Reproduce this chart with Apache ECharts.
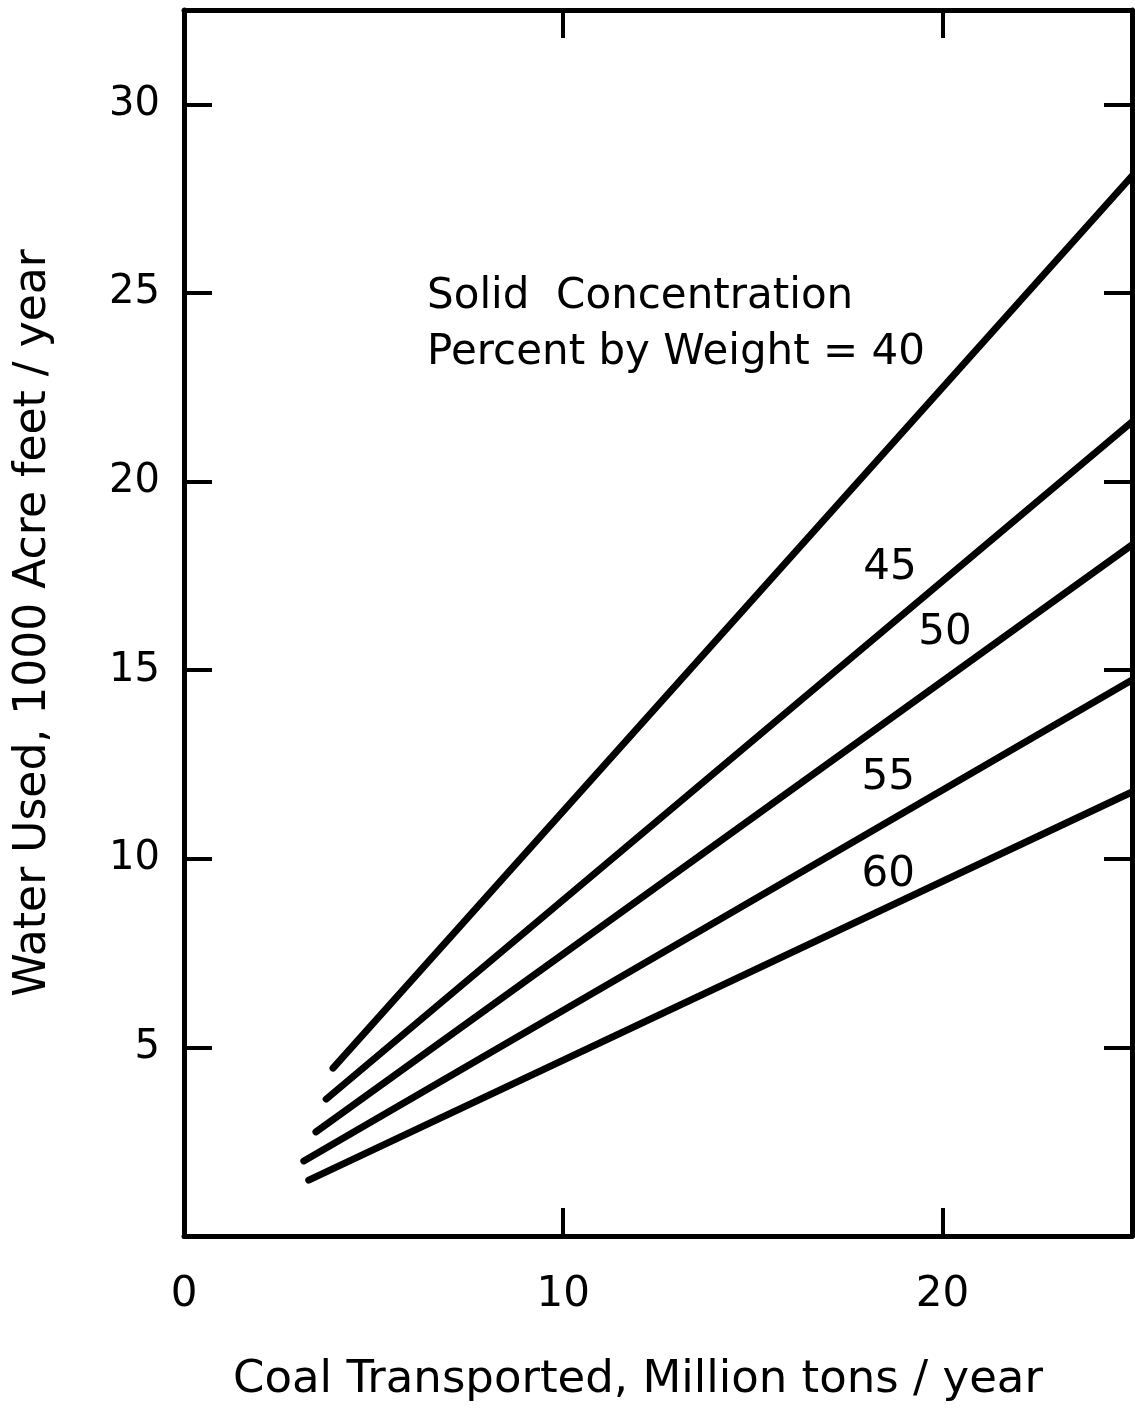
<!DOCTYPE html>
<html><head><meta charset="utf-8">
<script src="https://cdn.jsdelivr.net/npm/echarts@6.0.0/dist/echarts.min.js"></script>
<style>html,body{margin:0;padding:0;background:#fff}#c{width:1135px;height:1410px}</style>
</head><body><div id="c"></div>
<script>
// Solid concentration (percent by weight) of each curve
const concentrations = ['40', '45', '50', '55', '60'];
// Start and end points of each straight curve (coal in Mt/yr, water in 1000 acre-ft/yr)
const coalStart  = [3.93, 3.75, 3.48, 3.16, 3.29];
const waterStart = [4.45, 3.63, 2.76, 1.99, 1.48];
const coalEnd    = [25, 25, 25, 25, 25];
const waterEnd   = [28.1, 21.58, 18.32, 14.74, 11.77];
// Curve labels placed in data coordinates
const curveLabelText  = ['45', '50', '55', '60'];
const curveLabelCoal  = [18.62, 20.07, 18.57, 18.57];
const curveLabelWater = [17.71, 15.99, 12.14, 9.57];
// Legend-style annotation lines
const noteText  = ['Solid  Concentration', 'Percent by Weight = 40'];
const noteCoal  = [6.41, 6.41];
const noteWater = [24.9, 23.4];
// Axis ticks
const xTicks = [0, 10, 20];
const yTicks = [5, 10, 15, 20, 25, 30];

const FONT = 'DejaVu Sans';
const chart = echarts.init(document.getElementById('c'), null, {renderer: 'canvas'});

const lineSeries = concentrations.map((c, i) => ({
  type: 'line', name: c, silent: true, symbol: 'none',
  data: [[coalStart[i], waterStart[i]], [coalEnd[i], waterEnd[i]]],
  lineStyle: {color: '#000', width: 7, cap: 'round'},
  z: 3
}));

const txt = {color: '#000', opacity: 1, textBorderWidth: 0, fontWeight: 'normal', fontFamily: FONT};

const labelSeries = {
  type: 'scatter', silent: true, symbolSize: 0, itemStyle: {opacity: 1},
  data: curveLabelText.map((t, i) => ({value: [curveLabelCoal[i], curveLabelWater[i]], name: t})),
  label: Object.assign({show: true, position: 'inside', formatter: p => p.name, fontSize: 42}, txt),
  z: 4
};
const noteSeries = {
  type: 'scatter', silent: true, symbolSize: 0, itemStyle: {opacity: 1},
  data: noteText.map((t, i) => ({value: [noteCoal[i], noteWater[i]], name: t})),
  label: Object.assign({show: true, position: 'right', distance: 0, formatter: p => p.name,
          fontSize: 42, align: 'left', verticalAlign: 'middle'}, txt),
  z: 4
};

const axisLine = {show: true, onZero: false, lineStyle: {color: '#000', width: 5}};
const tick = {show: true, inside: true, length: 28, lineStyle: {color: '#000', width: 4}};

chart.setOption({
  animation: false,
  backgroundColor: '#fff',
  grid: {left: 184, right: 3, top: 10, bottom: 174, containLabel: false, outerBoundsMode: 'none'},
  xAxis: [{
    type: 'value', min: 0, max: 25, interval: 10, position: 'bottom',
    axisLine, axisTick: tick, splitLine: {show: false},
    axisLabel: Object.assign({show: true, margin: 38, fontSize: 42,
                showMinLabel: true, showMaxLabel: false,
                formatter: v => xTicks.includes(v) ? String(v) : ''}, txt),
    name: 'Coal Transported, Million tons / year', nameLocation: 'middle', nameGap: 122,
    nameMoveOverlap: false,
    nameTextStyle: Object.assign({fontSize: 45, padding: [0, 40, 0, 0]}, txt)
  }, {
    type: 'value', min: 0, max: 25, interval: 10, position: 'top',
    axisLine, axisTick: tick, splitLine: {show: false}, axisLabel: {show: false}
  }],
  yAxis: [{
    type: 'value', min: 0, max: 32.5, interval: 5, position: 'left',
    axisLine, axisTick: tick, splitLine: {show: false},
    axisLabel: Object.assign({show: true, margin: 24, fontSize: 40,
                formatter: v => yTicks.includes(v) ? String(v) : ''}, txt),
    name: 'Water Used, 1000 Acre feet / year', nameLocation: 'middle', nameGap: 128,
    nameMoveOverlap: false,
    nameTextStyle: Object.assign({fontSize: 44}, txt)
  }, {
    type: 'value', min: 0, max: 32.5, interval: 5, position: 'right',
    axisLine, axisTick: tick, splitLine: {show: false}, axisLabel: {show: false}
  }],
  series: [...lineSeries, labelSeries, noteSeries]
});
</script>
</body></html>
